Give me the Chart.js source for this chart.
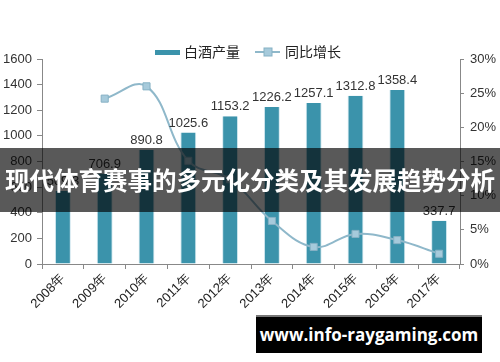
<!DOCTYPE html>
<html>
<head>
<meta charset="utf-8">
<script src="https://cdn.jsdelivr.net/npm/chart.js@4"></script>
<style>
  html, body { margin: 0; padding: 0; background: #fff; }
  #wrap { position: relative; width: 500px; height: 362px; overflow: hidden; }
  #banner {
    position: absolute; left: 0; top: 148px; width: 500px; height: 64px;
    background: rgba(0, 0, 0, 0.65); color: #fff;
    font: bold 24.5px "Noto Sans CJK SC", sans-serif;
    line-height: 64px; text-align: center; white-space: nowrap;
  }
  #site {
    position: absolute; left: 256px; top: 315px; width: 226px; height: 36px;
    background: #000; border-top: 2px solid #777; color: #fff;
    font: bold 17px "Open Sans", sans-serif;
    line-height: 36px; text-align: center; white-space: nowrap;
  }
</style>
</head>
<body>
<div id="wrap">
  <canvas id="chart" width="500" height="362"></canvas>
  <div id="banner">现代体育赛事的多元化分类及其发展趋势分析</div>
  <div id="site">www.info-raygaming.com</div>
</div>
<script>
const years = ["2008年", "2009年", "2010年", "2011年", "2012年", "2013年", "2014年", "2015年", "2016年", "2017年"];
const output = [569.3, 706.9, 890.8, 1025.6, 1153.2, 1226.2, 1257.1, 1312.8, 1358.4, 337.7];
const growth = [null, 24.2, 26.0, 15.1, 12.4, 6.3, 2.5, 4.4, 3.5, 1.5];
const leftTicks = [0, 200, 400, 600, 800, 1000, 1200, 1400, 1600];
const rightTicks = [0, 5, 10, 15, 20, 25, 30];

const barColor = "#3b93ab";
const lineColor = "#8fb8ca";

// value labels above the bars (bar dataset is index 1)
const barLabels = {
  id: "barLabels",
  afterDatasetsDraw(chart) {
    const ctx = chart.ctx;
    const meta = chart.getDatasetMeta(1);
    ctx.save();
    ctx.font = "13px 'Liberation Sans', sans-serif";
    ctx.fillStyle = "#333";
    ctx.textAlign = "center";
    ctx.textBaseline = "bottom";
    meta.data.forEach((bar, i) => {
      ctx.fillText(output[i].toFixed(1), bar.x, bar.y - 3);
    });
    ctx.restore();
  }
};

// legend drawn like the original: thick bar swatch and line with square marker
const topLegend = {
  id: "topLegend",
  afterDraw(chart) {
    const ctx = chart.ctx;
    ctx.save();
    ctx.fillStyle = barColor;
    ctx.fillRect(155, 50, 25, 5);
    ctx.font = "14px 'Noto Sans CJK SC', sans-serif";
    ctx.fillStyle = "#222";
    ctx.textBaseline = "middle";
    ctx.fillText("白酒产量", 184, 52);
    ctx.strokeStyle = lineColor;
    ctx.lineWidth = 2;
    ctx.beginPath();
    ctx.moveTo(255, 52);
    ctx.lineTo(280, 52);
    ctx.stroke();
    ctx.fillStyle = "#a6cadb";
    ctx.strokeStyle = "#86b1c4";
    ctx.lineWidth = 1;
    ctx.fillRect(264, 48, 8, 8);
    ctx.strokeRect(264, 48, 8, 8);
    ctx.fillStyle = "#222";
    ctx.fillText("同比增长", 285, 52);
    ctx.restore();
  }
};

new Chart(document.getElementById("chart"), {
  data: {
    labels: years,
    datasets: [
      {
        type: "line",
        label: "同比增长",
        data: growth,
        yAxisID: "y1",
        borderColor: lineColor,
        borderWidth: 2,
        tension: 0.4,
        pointStyle: "rect",
        pointRadius: 5,
        pointBackgroundColor: "#a6cadb",
        pointBorderColor: "#86b1c4",
        pointBorderWidth: 1,
        order: 0
      },
      {
        type: "bar",
        label: "白酒产量",
        data: output,
        yAxisID: "y",
        backgroundColor: barColor,
        borderColor: "#cfe6ee",
        borderWidth: { left: 1, right: 1 },
        barPercentage: 0.76,
        categoryPercentage: 0.5,
        order: 1
      }
    ]
  },
  options: {
    responsive: false,
    animation: false,
    layout: { padding: { top: 59, left: 0, right: 0, bottom: 0 } },
    plugins: {
      legend: { display: false },
      tooltip: { enabled: false }
    },
    scales: {
      x: {
        offset: true,
        grid: { display: true, drawOnChartArea: false, offset: true, tickLength: 5, color: "#888" },
        border: { display: true, color: "#888" },
        ticks: {
          maxRotation: 45, minRotation: 45,
          color: "#222",
          font: { size: 13, family: "'Liberation Sans', sans-serif" },
          padding: 2
        },
        afterFit(scale) { scale.height = 98; }
      },
      y: {
        position: "left",
        min: 0, max: 1600,
        afterBuildTicks(scale) { scale.ticks = leftTicks.map(v => ({ value: v })); },
        grid: { display: true, drawOnChartArea: false, tickLength: 5, color: "#888" },
        border: { display: true, color: "#888" },
        ticks: {
          color: "#333",
          font: { size: 13, family: "'Liberation Sans', sans-serif" },
          padding: 5,
          callback: v => String(v)
        },
        afterFit(scale) { scale.width = 42; }
      },
      y1: {
        position: "right",
        min: 0, max: 30,
        afterBuildTicks(scale) { scale.ticks = rightTicks.map(v => ({ value: v })); },
        grid: { display: true, drawOnChartArea: false, tickLength: 4, color: "#888" },
        border: { display: true, color: "#888" },
        ticks: {
          color: "#333",
          font: { size: 13, family: "'Liberation Sans', sans-serif" },
          padding: 6,
          callback: v => v + "%"
        },
        afterFit(scale) { scale.width = 40; }
      }
    }
  },
  plugins: [barLabels, topLegend]
});
</script>
</body>
</html>
